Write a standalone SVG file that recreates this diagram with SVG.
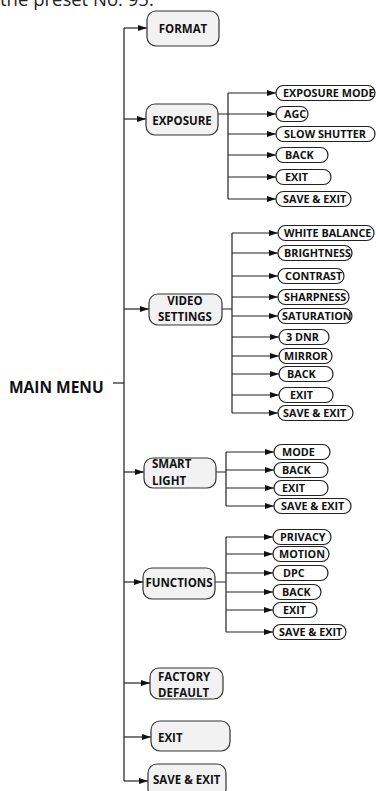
<svg xmlns="http://www.w3.org/2000/svg" width="376" height="791" viewBox="0 0 376 791">
<defs>
<marker id="ah" markerUnits="userSpaceOnUse" markerWidth="9" markerHeight="6" refX="9" refY="3" orient="auto">
<path d="M0,0 L9,3 L0,6 z" fill="#111"/>
</marker>
<style>
.c{stroke:#222;stroke-width:1.2;fill:none}
.a{stroke:#222;stroke-width:1.2;fill:none;marker-end:url(#ah)}
.m{stroke:#555;stroke-width:1.6;fill:none}
.mb{fill:#f2f2f2;stroke:#333;stroke-width:1.2}
.cb{fill:#fff;stroke:#222;stroke-width:1.2}
.mt{font-family:"Open Sans","DejaVu Sans",sans-serif;font-weight:bold;font-size:11.5px;fill:#111}
.ct{font-family:"Open Sans","DejaVu Sans",sans-serif;font-weight:bold;font-size:10.8px;fill:#111}
.top{font-family:"Open Sans","DejaVu Sans",sans-serif;font-size:18.5px;fill:#222}
</style>
</defs>
<rect width="376" height="791" fill="#fff"/>
<text class="top" x="0" y="6">the preset No. 95.</text>

<g id="connectors">
<path class="m" d="M124,28 V781"/>
<path class="c" d="M113,383 H124"/>
<path class="a" d="M124,28 H147"/>
<path class="a" d="M124,119 H146"/>
<path class="a" d="M124,309 H149"/>
<path class="a" d="M124,472 H144"/>
<path class="a" d="M124,582 H143"/>
<path class="a" d="M124,683 H150"/>
<path class="a" d="M124,737 H151"/>
<path class="a" d="M124,781 H148"/>
<path class="c" d="M218,114 H228 M228,93 V199"/>
<path class="a" d="M228,93 H276"/>
<path class="a" d="M228,114 H276"/>
<path class="a" d="M228,134 H276"/>
<path class="a" d="M228,155 H276"/>
<path class="a" d="M228,177 H276"/>
<path class="a" d="M228,199 H276"/>
<path class="c" d="M222,309 H232 M232,233 V413"/>
<path class="a" d="M232,233 H278"/>
<path class="a" d="M232,253 H278"/>
<path class="a" d="M232,276 H278"/>
<path class="a" d="M232,297 H278"/>
<path class="a" d="M232,316 H278"/>
<path class="a" d="M232,337 H279"/>
<path class="a" d="M232,356 H279"/>
<path class="a" d="M232,374 H279"/>
<path class="a" d="M232,395 H279"/>
<path class="a" d="M232,413 H278"/>
<path class="c" d="M216,472 H226 M226,452 V506"/>
<path class="a" d="M226,452 H274"/>
<path class="a" d="M226,470 H274"/>
<path class="a" d="M226,488 H274"/>
<path class="a" d="M226,506 H274"/>
<path class="c" d="M215,582 H226 M226,537 V632"/>
<path class="a" d="M226,537 H273"/>
<path class="a" d="M226,554 H273"/>
<path class="a" d="M226,573 H273"/>
<path class="a" d="M226,592 H273"/>
<path class="a" d="M226,610 H273"/>
<path class="a" d="M226,632 H273"/>
</g>

<g id="main-menu"><text class="mt" style="font-size:15.5px" x="9" y="393">MAIN MENU</text></g>

<g id="format"><rect class="mb" x="147" y="11" width="72" height="35" rx="9"/><text class="mt" x="183" y="33" text-anchor="middle">FORMAT</text></g>
<g id="exposure"><rect class="mb" x="146" y="104" width="72" height="31" rx="9"/><text class="mt" x="182" y="124.5" text-anchor="middle">EXPOSURE</text></g>
<g id="video-settings"><rect class="mb" x="149" y="294" width="73" height="31" rx="9"/><text class="mt" x="185" y="305" text-anchor="middle">VIDEO</text><text class="mt" x="185" y="321" text-anchor="middle">SETTINGS</text></g>
<g id="smart-light"><rect class="mb" x="144" y="458" width="72" height="30" rx="9"/><text class="mt" x="152" y="468">SMART</text><text class="mt" x="152" y="485">LIGHT</text></g>
<g id="functions"><rect class="mb" x="143" y="568" width="72" height="31" rx="9"/><text class="mt" x="179" y="587" text-anchor="middle">FUNCTIONS</text></g>
<g id="factory-default"><rect class="mb" x="150" y="668" width="73" height="31" rx="9"/><text class="mt" x="158" y="681">FACTORY</text><text class="mt" x="158" y="697">DEFAULT</text></g>
<g id="exit"><rect class="mb" x="151" y="721" width="79" height="30" rx="9"/><text class="mt" x="158" y="742">EXIT</text></g>
<g id="save-exit"><rect class="mb" x="148" y="764" width="78" height="34" rx="9"/><text class="mt" x="153" y="784">SAVE &amp; EXIT</text></g>

<g id="exp-mode"><rect class="cb" x="276" y="85.5" width="99" height="15" rx="7.5"/><text class="ct" x="283" y="96.8">EXPOSURE MODE</text></g>
<g id="exp-agc"><rect class="cb" x="276" y="106.5" width="32" height="15" rx="7.5"/><text class="ct" x="284" y="117.8">AGC</text></g>
<g id="exp-slow"><rect class="cb" x="276" y="126.5" width="99" height="15" rx="7.5"/><text class="ct" x="284" y="137.8">SLOW SHUTTER</text></g>
<g id="exp-back"><rect class="cb" x="276" y="147.5" width="52" height="15" rx="7.5"/><text class="ct" x="285" y="158.8">BACK</text></g>
<g id="exp-exit"><rect class="cb" x="276" y="169.5" width="55" height="15" rx="7.5"/><text class="ct" x="285" y="180.8">EXIT</text></g>
<g id="exp-save"><rect class="cb" x="276" y="191.5" width="75" height="15" rx="7.5"/><text class="ct" x="283" y="202.8">SAVE &amp; EXIT</text></g>

<g id="vid-wb"><rect class="cb" x="278" y="225.5" width="96" height="15" rx="7.5"/><text class="ct" x="284" y="236.8">WHITE BALANCE</text></g>
<g id="vid-bright"><rect class="cb" x="278" y="245.5" width="74" height="15" rx="7.5"/><text class="ct" x="284" y="256.8">BRIGHTNESS</text></g>
<g id="vid-contrast"><rect class="cb" x="278" y="268.5" width="66" height="15" rx="7.5"/><text class="ct" x="285" y="279.8">CONTRAST</text></g>
<g id="vid-sharp"><rect class="cb" x="278" y="289.5" width="71" height="15" rx="7.5"/><text class="ct" x="284" y="300.8">SHARPNESS</text></g>
<g id="vid-sat"><rect class="cb" x="278" y="308.5" width="74" height="15" rx="7.5"/><text class="ct" x="282" y="319.8">SATURATION</text></g>
<g id="vid-3dnr"><rect class="cb" x="279" y="329.5" width="50" height="15" rx="7.5"/><text class="ct" x="286" y="340.8">3 DNR</text></g>
<g id="vid-mirror"><rect class="cb" x="279" y="348.5" width="53" height="15" rx="7.5"/><text class="ct" x="284" y="359.8">MIRROR</text></g>
<g id="vid-back"><rect class="cb" x="279" y="366.5" width="54" height="15" rx="7.5"/><text class="ct" x="287" y="377.8">BACK</text></g>
<g id="vid-exit"><rect class="cb" x="279" y="387.5" width="54" height="15" rx="7.5"/><text class="ct" x="290" y="398.8">EXIT</text></g>
<g id="vid-save"><rect class="cb" x="278" y="405.5" width="75" height="15" rx="7.5"/><text class="ct" x="283" y="416.8">SAVE &amp; EXIT</text></g>

<g id="sl-mode"><rect class="cb" x="274" y="444.5" width="56" height="15" rx="7.5"/><text class="ct" x="282" y="455.8">MODE</text></g>
<g id="sl-back"><rect class="cb" x="274" y="462.5" width="54" height="15" rx="7.5"/><text class="ct" x="282" y="473.8">BACK</text></g>
<g id="sl-exit"><rect class="cb" x="274" y="480.5" width="54" height="15" rx="7.5"/><text class="ct" x="282" y="491.8">EXIT</text></g>
<g id="sl-save"><rect class="cb" x="274" y="498.5" width="77" height="15" rx="7.5"/><text class="ct" x="281" y="509.8">SAVE &amp; EXIT</text></g>

<g id="fn-privacy"><rect class="cb" x="273" y="529.5" width="58" height="15" rx="7.5"/><text class="ct" x="280" y="540.8">PRIVACY</text></g>
<g id="fn-motion"><rect class="cb" x="273" y="546.5" width="56" height="15" rx="7.5"/><text class="ct" x="279" y="557.8">MOTION</text></g>
<g id="fn-dpc"><rect class="cb" x="273" y="565.5" width="55" height="15" rx="7.5"/><text class="ct" x="283" y="576.8">DPC</text></g>
<g id="fn-back"><rect class="cb" x="273" y="584.5" width="48" height="15" rx="7.5"/><text class="ct" x="282" y="595.8">BACK</text></g>
<g id="fn-exit"><rect class="cb" x="273" y="602.5" width="44" height="15" rx="7.5"/><text class="ct" x="283" y="613.8">EXIT</text></g>
<g id="fn-save"><rect class="cb" x="273" y="624.5" width="73" height="15" rx="7.5"/><text class="ct" x="279" y="635.8">SAVE &amp; EXIT</text></g>
</svg>
